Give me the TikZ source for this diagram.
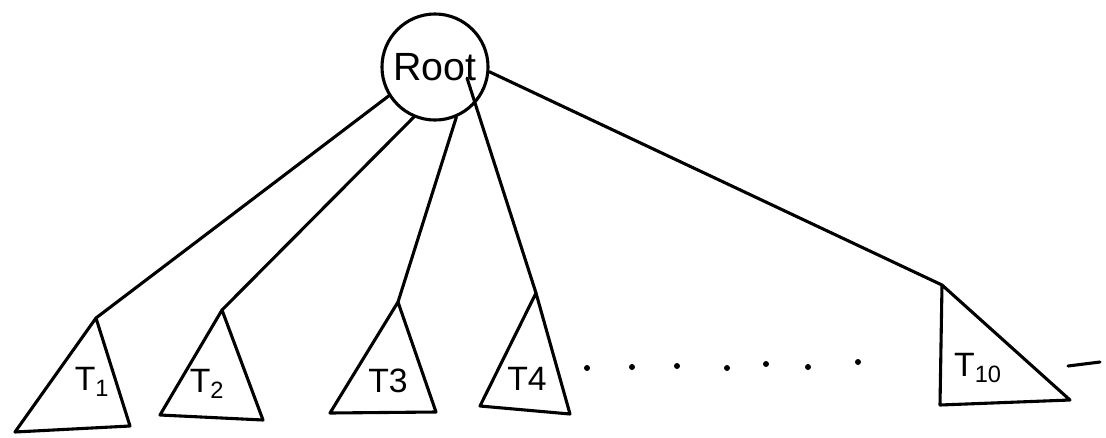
\documentclass[tikz,border=0pt]{standalone}
\usepackage{fontspec}
\setmainfont{Liberation Sans}
\usetikzlibrary{positioning}

\tikzset{
  pen/.style={line width=2.2pt,line join=round,line cap=round},
  rootnode/.style={pen,draw,circle,minimum size=2.65cm,inner sep=0pt,font=\fontsize{28}{30}\selectfont},
  tname/.style={font=\fontsize{24}{26}\selectfont,inner sep=0pt},
}

\begin{document}
\begin{tikzpicture}[x=0.025cm,y=-0.025cm]
\useasboundingbox (0,0) rectangle (1106,437);
\node[rootnode] (root) at (435,67) {Root};
\coordinate (rootin) at (467,78);
% subtrees: apex, left and right base corners
\foreach \n/\ax/\ay/\lx/\ly/\rx/\ry in {1/96/318/15/432/130/426, 2/222/310/160/415/263/420, 3/398/302/330/413/436/412, 4/536/293/480/406/570/414, 10/942/285/940/405/1070/400} {
  \coordinate (t\n) at (\ax,\ay);
  \draw[pen] (t\n) -- (\lx,\ly) -- (\rx,\ry) -- cycle;
}
\node[tname] (n1) at (92,382) {T\textsubscript{1}};
\node[tname] (n2) at (207,384) {T\textsubscript{2}};
\node[tname] (n3) at (388,381) {T3};
\node[tname] (n4) at (527,379) {T4};
\node[tname] (n10) at (978,368) {T\textsubscript{10}};
% edges from the root
\draw[pen] (root.212) -- (t1);
\draw[pen] (root.247) -- (t2);
\draw[pen] (root.293) -- (t3);
\draw[pen] (rootin) -- (t4);
\draw[pen] (root.-5) -- (t10);
% dots between T4 and T10
\foreach \x/\y in {587/368, 632/367, 677/366, 727/368, 766/364, 808/367, 858/362}
  \fill (\x,\y) circle (3);
\coordinate (dsha) at (1068,366);
\coordinate (dshb) at (1100,362);
\draw[pen] (dsha) -- (dshb);
\end{tikzpicture}
\end{document}
